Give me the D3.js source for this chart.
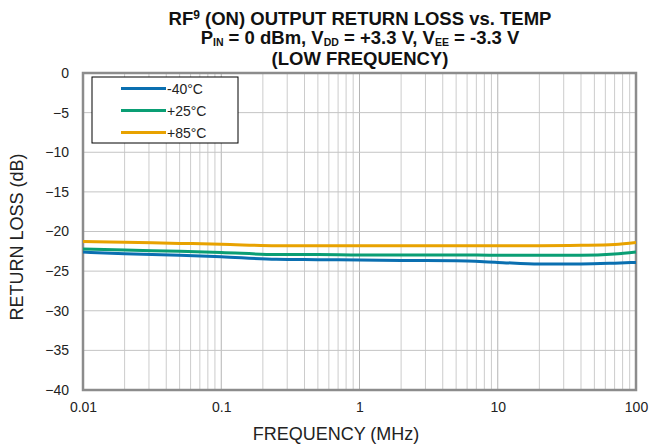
<!DOCTYPE html>
<html><head><meta charset="utf-8">
<script src="https://cdn.jsdelivr.net/npm/d3@7"></script>
<style>body{margin:0;background:#fff}svg{display:block;font-family:"Liberation Sans",Arial,sans-serif}</style>
</head><body><svg id="c" width="652" height="444"></svg>
<script>
const freqs = [0.01, 0.02, 0.05, 0.1, 0.25, 0.5, 1, 2, 5, 10, 20, 40, 70, 100];
const rlM40 = [-22.6, -22.8, -23.0, -23.2, -23.5, -23.55, -23.6, -23.65, -23.7, -23.9, -24.1, -24.1, -24.0, -23.9];
const rlP25 = [-22.2, -22.35, -22.5, -22.65, -22.9, -22.9, -22.95, -22.95, -22.95, -23.0, -23.0, -23.0, -22.85, -22.6];
const rlP85 = [-21.25, -21.35, -21.5, -21.6, -21.8, -21.8, -21.8, -21.8, -21.8, -21.8, -21.8, -21.75, -21.65, -21.4];
const seriesNames = ["-40°C", "+25°C", "+85°C"];
const xTicks = [0.01, 0.1, 1, 10, 100];
const xTickLabels = ["0.01", "0.1", "1", "10", "100"];
const yTicks = [0, -5, -10, -15, -20, -25, -30, -35, -40];

const colors = ["#0a6fb0", "#0a9e74", "#e8a200"];
const svg = d3.select("#c");
const L = 83, R = 636, T = 73, B = 390;
const x = d3.scaleLog().domain([0.01, 100]).range([L, R]);
const y = d3.scaleLinear().domain([-40, 0]).range([B, T]);

// grid
const minor = [];
for (let d = 0.01; d < 100; d *= 10) for (let k = 2; k <= 9; k++) minor.push(d * k);
const g = svg.append("g");
g.selectAll(".vm").data(minor).enter().append("line")
  .attr("x1", d => x(d)).attr("x2", d => x(d)).attr("y1", T).attr("y2", B)
  .attr("stroke", "#cccccc").attr("stroke-width", 1);
g.selectAll(".vM").data(xTicks).enter().append("line")
  .attr("x1", d => x(d)).attr("x2", d => x(d)).attr("y1", T).attr("y2", B)
  .attr("stroke", "#b4b4b4").attr("stroke-width", 1);
g.selectAll(".h").data(yTicks).enter().append("line")
  .attr("x1", L).attr("x2", R).attr("y1", d => y(d)).attr("y2", d => y(d))
  .attr("stroke", "#c4c4c4").attr("stroke-width", 1);

// frame
svg.append("rect").attr("x", L).attr("y", T).attr("width", R - L).attr("height", B - T)
  .attr("fill", "none").attr("stroke", "#8c8c8c").attr("stroke-width", 2.5);

// axes labels
const xa = svg.append("g").attr("transform", `translate(0,${B})`)
  .call(d3.axisBottom(x).tickValues(xTicks).tickFormat((d, i) => xTickLabels[i]).tickSize(0).tickPadding(12));
xa.select(".domain").remove();
xa.selectAll("text").attr("font-size", 14).attr("fill", "#222").attr("font-family", "Liberation Sans, Arial, sans-serif");
const ya = svg.append("g").attr("transform", `translate(${L},0)`)
  .call(d3.axisLeft(y).tickValues(yTicks).tickFormat(d3.format("d")).tickSize(0).tickPadding(14));
ya.select(".domain").remove();
ya.selectAll("text").attr("font-size", 14).attr("fill", "#222").attr("font-family", "Liberation Sans, Arial, sans-serif");

// lines
const data = [rlM40, rlP25, rlP85];
const line = d3.line().x((d, i) => x(freqs[i])).y(d => y(d)).curve(d3.curveMonotoneX);
data.forEach((s, i) => {
  svg.append("path").datum(s).attr("d", line).attr("fill", "none")
    .attr("stroke", colors[i]).attr("stroke-width", 3);
});

// legend
svg.append("rect").attr("x", 92).attr("y", 77).attr("width", 146).attr("height", 66)
  .attr("fill", "#fff").attr("stroke", "#000").attr("stroke-width", 1);
seriesNames.forEach((n, i) => {
  const yy = 88.5 + i * 22;
  svg.append("line").attr("x1", 121).attr("x2", 166).attr("y1", yy).attr("y2", yy)
    .attr("stroke", colors[i]).attr("stroke-width", 3);
  svg.append("text").attr("x", 167).attr("y", yy + 5).attr("font-size", 14).attr("fill", "#222").text(n);
});

// titles
const tf = 18.5;
const t = svg.append("text").attr("text-anchor", "middle").attr("font-weight", "bold").attr("font-size", tf).attr("fill", "#111");
const t1 = t.append("tspan").attr("x", 360).attr("y", 25);
t1.append("tspan").text("RF");
t1.append("tspan").attr("font-size", 12).attr("dy", -6).text("9");
t1.append("tspan").attr("dy", 6).text(" (ON) OUTPUT RETURN LOSS vs. TEMP");
const t2 = svg.append("text").attr("text-anchor", "middle").attr("font-weight", "bold").attr("font-size", tf).attr("fill", "#111").attr("x", 360).attr("y", 44);
t2.append("tspan").text("P");
t2.append("tspan").attr("font-size", 10.5).attr("dy", 2).text("IN");
t2.append("tspan").attr("dy", -2).text(" = 0 dBm, V");
t2.append("tspan").attr("font-size", 10.5).attr("dy", 2).text("DD");
t2.append("tspan").attr("dy", -2).text(" = +3.3 V, V");
t2.append("tspan").attr("font-size", 10.5).attr("dy", 2).text("EE");
t2.append("tspan").attr("dy", -2).text(" = -3.3 V");
svg.append("text").attr("text-anchor", "middle").attr("font-weight", "bold").attr("font-size", tf).attr("fill", "#111")
  .attr("x", 360).attr("y", 65).text("(LOW FREQUENCY)");

svg.append("text").attr("text-anchor", "middle").attr("font-size", 18).attr("fill", "#222")
  .attr("x", 336).attr("y", 440).text("FREQUENCY (MHz)");
svg.append("text").attr("text-anchor", "middle").attr("font-size", 18).attr("fill", "#222")
  .attr("transform", "translate(23,237) rotate(-90)").text("RETURN LOSS (dB)");
</script></body></html>
